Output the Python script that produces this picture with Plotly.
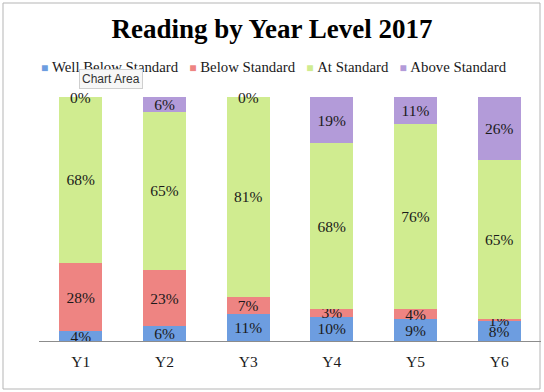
import plotly.graph_objects as go

categories = ["Y1", "Y2", "Y3", "Y4", "Y5", "Y6"]
well_below = [4, 6, 11, 10, 9, 8]
below = [28, 23, 7, 3, 4, 1]
at_std = [68, 65, 81, 68, 76, 65]
above = [0, 6, 0, 19, 11, 26]
series_names = ["Well Below Standard", "Below Standard", "At Standard", "Above Standard"]
colors = ["#6d9de0", "#ee8482", "#d0ec90", "#b39bd9"]

SERIF = "Liberation Serif"
LBL = 15.5
fig = go.Figure()
for name, vals, col in zip(series_names, [well_below, below, at_std, above], colors):
    fig.add_trace(go.Bar(
        x=categories, y=vals, name=name,
        marker=dict(color=col, line=dict(width=0)),
        text=[f"{v}%" if v else "" for v in vals],
        textposition="inside", insidetextanchor="middle",
        constraintext="none",
        textfont=dict(family=SERIF, size=LBL, color="#1a1a1a"),
        showlegend=False, hoverinfo="skip",
    ))

# zero-valued top segments are labelled at the top of the stack
for c, v in zip(categories, above):
    if v == 0:
        fig.add_annotation(x=c, y=100, xref="x", yref="y", text=f"{v}%", showarrow=False,
                           yanchor="middle", font=dict(family=SERIF, size=LBL, color="#1a1a1a"))

legend_html = "&nbsp;&nbsp;&nbsp;".join(
    f"<span style='color:{c};font-size:12px'>■</span>&nbsp;{n}" for n, c in zip(series_names, colors)
)

fig.update_layout(
    width=544, height=392,
    margin=dict(l=39, r=3, t=97, b=51),
    barmode="stack", barnorm="percent", bargap=0.486,
    plot_bgcolor="white", paper_bgcolor="white",
    title=dict(text="<b>Reading by Year Level 2017</b>", x=0.5, xref="container", xanchor="center",
               y=1 - 29 / 392, yanchor="middle",
               font=dict(family=SERIF, size=27, color="#000000")),
    xaxis=dict(showline=True, linecolor="#8c8c8c", linewidth=1, ticks="", showgrid=False,
               ticklabelstandoff=6,
               tickfont=dict(family=SERIF, size=15.5, color="#1a1a1a")),
    yaxis=dict(visible=False, range=[0, 100], showgrid=False),
    font=dict(family=SERIF),
)

fig.add_annotation(text=legend_html, xref="paper", yref="paper",
                   x=(274 - 39) / 502, y=(341 - 67) / 244, showarrow=False,
                   xanchor="center", yanchor="middle",
                   font=dict(family=SERIF, size=14.8, color="#1a1a1a"))

fig.add_annotation(text="Chart Area", xref="paper", yref="paper",
                   x=(111 - 39) / 502, y=(341 - 79) / 244, showarrow=False,
                   xanchor="center", yanchor="middle",
                   bgcolor="#f7f7f7", bordercolor="#cfcfcf", borderwidth=1, borderpad=2,
                   font=dict(family="Liberation Sans", size=12, color="#333333"))

fig.add_shape(type="rect", xref="paper", yref="paper",
              x0=(3 - 39) / 502, x1=(540 - 39) / 502,
              y0=(341 - 389) / 244, y1=(341 - 3) / 244,
              line=dict(color="#b5b5b5", width=1), fillcolor="rgba(0,0,0,0)", layer="below")

fig.write_html("out.html", config={"displayModeBar": False},
               post_script="document.body.style.margin='0';")
